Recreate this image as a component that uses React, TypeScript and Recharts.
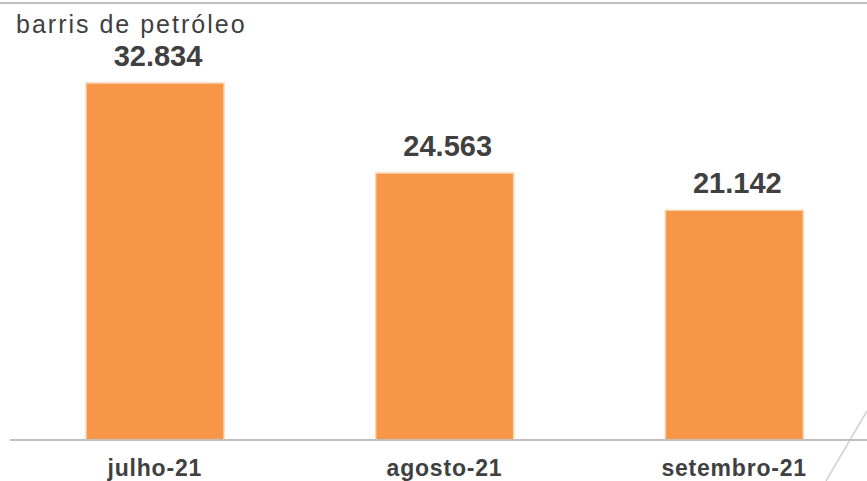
import React from "react";
import { BarChart, Bar, XAxis, YAxis, LabelList, Customized } from "recharts";

const months = ["julho-21", "agosto-21", "setembro-21"];
const barrels = [32834, 24563, 21142];
const unitLabel = "barris de petróleo";

const data = months.map((month, i) => ({ month, barrels: barrels[i] }));

const FONT = "'Liberation Sans', Arial, sans-serif";
const TEXT = "#404040";
const GRID = "#BFBFBF";

const fmt = (v: number) => String(v).replace(/\B(?=(\d{3})+(?!\d))/g, ".");

const MonthTick = (props: any) => {
  const { x, payload } = props;
  return (
    <text
      x={x}
      y={476}
      textAnchor="middle"
      fontFamily={FONT}
      fontSize={23}
      fontWeight="bold"
      letterSpacing={0.8}
      fill={TEXT}
    >
      {payload.value}
    </text>
  );
};

// decorative frame lines (top rule and slanted corner stroke)
const Frame = () => (
  <g>
    <line x1={0} y1={3} x2={867} y2={3} stroke={GRID} strokeWidth={2} />
    <line x1={826} y1={481} x2={867} y2={411} stroke="#D0D0D0" strokeWidth={1.5} />
  </g>
);

export default function App() {
  return (
    <div
      style={{
        position: "absolute",
        left: 0,
        top: 0,
        width: 867,
        height: 481,
        overflow: "hidden",
        background: "#fff",
      }}
    >
      <div
        style={{
          position: "absolute",
          left: 16,
          top: 9,
          fontFamily: FONT,
          fontSize: 25,
          letterSpacing: 2,
          color: TEXT,
          lineHeight: "30px",
          whiteSpace: "nowrap",
        }}
      >
        {unitLabel}
      </div>
      <BarChart
        width={879}
        height={481}
        data={data}
        margin={{ top: 83, right: 0, bottom: 0, left: 10 }}
      >
        <Customized component={Frame} />
        <XAxis
          dataKey="month"
          height={41}
          axisLine={{ stroke: GRID, strokeWidth: 2 }}
          tickLine={false}
          tick={<MonthTick />}
          interval={0}
        />
        <YAxis hide domain={[0, "dataMax"]} />
        <Bar
          dataKey="barrels"
          fill="#F79646"
          stroke="#FCD5B4"
          strokeWidth={1.5}
          barSize={138}
          isAnimationActive={false}
        >
          <LabelList
            dataKey="barrels"
            position="top"
            offset={17}
            formatter={(v: any) => fmt(Number(v))}
            style={{ fontFamily: FONT, fontSize: 29, fontWeight: "bold", fill: TEXT, transform: "translateX(3px)" }}
          />
        </Bar>
      </BarChart>
    </div>
  );
}
